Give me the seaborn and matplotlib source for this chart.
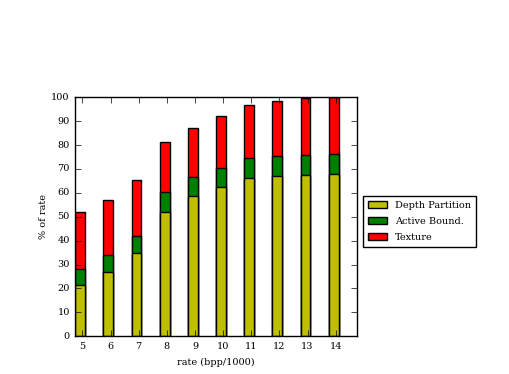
import matplotlib
matplotlib.use("Agg")
import matplotlib.pyplot as plt
from matplotlib.patches import Patch
import seaborn as sns
import numpy as np

rates = [5, 6, 7, 8, 9, 10, 11, 12, 13, 14]
depth_partition = [21.3, 26.9, 34.7, 51.9, 58.5, 62.3, 66.0, 67.0, 67.5, 67.7]
active_bound = [6.7, 6.9, 7.4, 8.3, 8.2, 8.3, 8.4, 8.5, 8.4, 8.5]
texture = [23.8, 23.4, 23.1, 21.0, 20.3, 21.6, 22.3, 22.8, 23.8, 24.0]
labels = ["Depth Partition", "Active Bound.", "Texture"]
colors = ["y", "g", "r"]

plt.style.use("classic")
plt.rcParams["font.family"] = ["DejaVu Serif"]
plt.rcParams["font.size"] = 7

fig = plt.figure(figsize=(5.09, 3.74), dpi=100)
ax = fig.add_axes([0.148, 0.101, 0.553, 0.639])

d = np.array(depth_partition)
a = np.array(active_bound)
t = np.array(texture)
pos = np.array(rates) - 0.075
cums = [d, d + a, d + a + t]
for cum, col in list(zip(cums, colors))[::-1]:
    sns.barplot(x=pos, y=cum, color=col, edgecolor="black", linewidth=1.0,
                native_scale=True, width=0.35, errorbar=None, saturation=1, ax=ax)

ax.set_xlim(4.75, 14.75)
ax.set_ylim(0, 100)
ax.set_xticks(rates)
ax.set_xticklabels([str(r) for r in rates])
ax.set_yticks(np.arange(0, 101, 10))
ax.set_xlabel("rate (bpp/1000)")
ax.set_ylabel("% of rate", labelpad=2)

handles = [Patch(facecolor=c, edgecolor="black", label=l) for c, l in zip(colors, labels)]
ax.legend(handles=handles, loc="center left", bbox_to_anchor=(1.01, 0.48),
          fontsize=7, borderaxespad=0.3, borderpad=0.55, labelspacing=0.7)

fig.savefig("out.png", dpi=100)
